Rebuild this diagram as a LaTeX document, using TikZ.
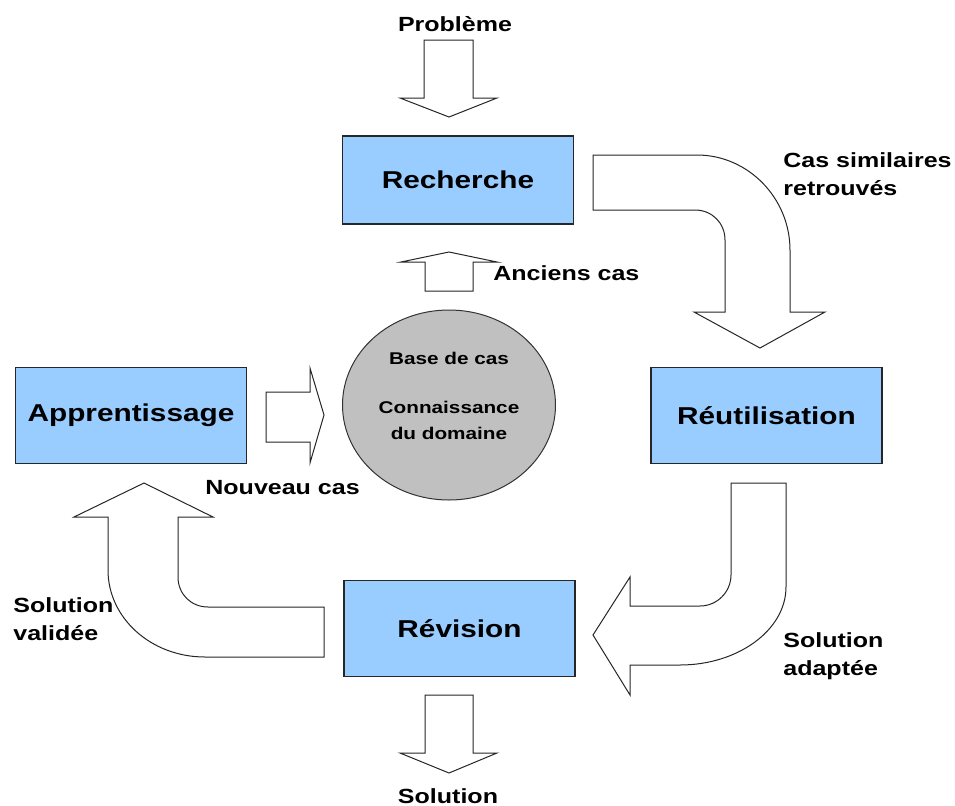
\documentclass[tikz,border=0pt]{standalone}
\usepackage{fontspec}
\setmainfont{Liberation Sans}[FakeStretch=1.22]
\usetikzlibrary{shapes.geometric}
\definecolor{boxBlue}{HTML}{99CCFF}
\definecolor{baseGray}{HTML}{C0C0C0}
\begin{document}
\begin{tikzpicture}[x=0.5pt,y=-0.5pt]
\tikzset{stage/.style={draw=black!85,fill=boxBlue,line width=0.6pt,
  minimum width=115.5pt,minimum height=48pt,inner sep=0pt,
  font=\fontsize{12.2}{14}\selectfont\bfseries}}
\tikzset{lbl/.style={inner sep=0pt,align=left,
  font=\fontsize{10.25}{14}\selectfont\bfseries}}
\tikzset{inBase/.style={inner sep=0pt,align=center,
  font=\fontsize{8.5}{13}\selectfont\bfseries}}
\tikzset{bigArrow/.style={draw=black!85,fill=white,line width=0.5pt,line join=miter}}
\useasboundingbox (0,0) rectangle (955,805);
%stages
\node[stage,minimum height=44pt] (rech) at (458,180) {Recherche};
\node[stage] (reut) at (766.5,415.5) {Réutilisation};
\node[stage] (appr) at (131,415.5) {Apprentissage};
\node[stage] (revi) at (459.5,628.5) {Révision};
%case base
\node[ellipse,draw=black!80,fill=baseGray,line width=0.5pt,
  minimum width=106.5pt,minimum height=95pt,inner sep=0pt] (base) at (449,405) {};
\node[inBase] (baseTxt) at (449,358) {Base de cas};
\node[inBase] (domTxt) at (449,420) {Connaissance\\du domaine};
%straight arrows
\draw[bigArrow] (424,40)--(473,40)--(473,98)--(497,98)--(449,117)--(400,98)--(424,98)--cycle;
\draw[bigArrow] (425,695)--(473,695)--(473,753)--(497,753)--(449,773)--(400,753)--(425,753)--cycle;
\draw[bigArrow] (425,291)--(473,291)--(473,262)--(497,262)--(449,252)--(401,262)--(425,262)--cycle;
\draw[bigArrow] (266,392)--(310,392)--(310,368)--(324,415)--(310,463)--(310,442)--(266,442)--cycle;
%bent arrows
\draw[bigArrow] (593,155)--(697,155) .. controls (748,155) and (790,198) .. (790,250)
  --(790,312)--(825,312)--(760,348)--(694,312)--(725,312)--(725,240)
  .. controls (725,223) and (712,210) .. (695,210)--(593,210)--cycle;
\draw[bigArrow] (731,483)--(786,483)--(786,587) .. controls (786,630) and (738,665) .. (680,665)
  --(630,665)--(630,695)--(593,635)--(630,577)--(630,606)--(700,606)
  .. controls (717,606) and (731,592) .. (731,575)--cycle;
\draw[bigArrow] (324,607)--(208,607) .. controls (191,607) and (178,594) .. (178,577)
  --(178,517)--(213,517)--(144,483)--(74,517)--(108,517)--(108,570)
  .. controls (108,618) and (151,657) .. (205,657)--(324,657)--cycle;
%labels
\node[lbl] (probTxt) at (455,24) {Problème};
\node[lbl] (solTxt) at (448,796) {Solution};
\node[lbl,anchor=west] (ancTxt) at (493,273) {Anciens cas};
\node[lbl,anchor=west] (nouvTxt) at (205,488) {Nouveau cas};
\node[lbl,anchor=west] (simTxt) at (783,174) {Cas similaires\\retrouvés};
\node[lbl,anchor=west] (adaTxt) at (783,656) {Solution\\adaptée};
\node[lbl,anchor=west] (valTxt) at (13,619) {Solution\\validée};
\end{tikzpicture}
\end{document}
